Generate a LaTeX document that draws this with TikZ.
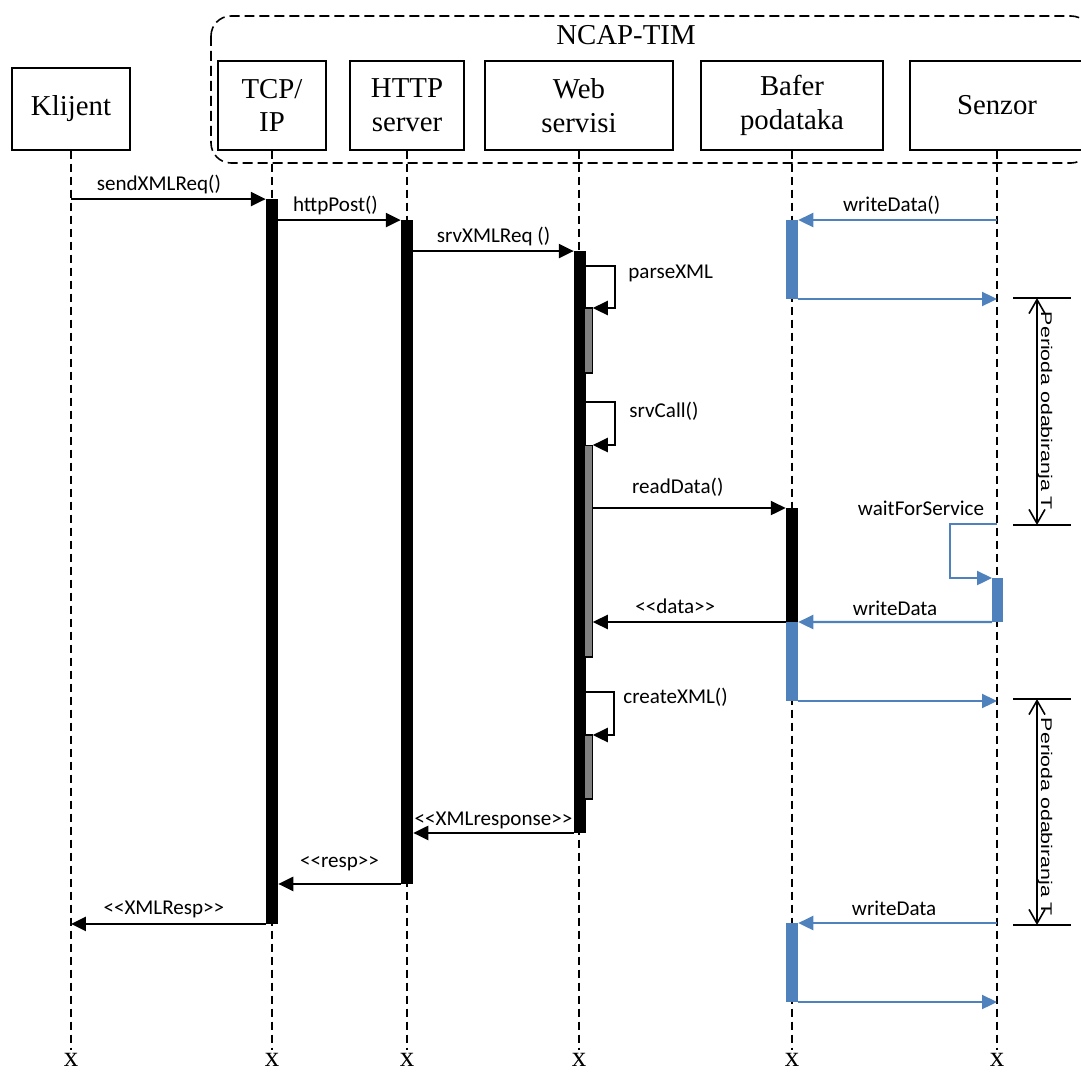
\documentclass[tikz,border=0pt]{standalone}
\usepackage{fontspec}
\setmainfont{Liberation Serif}
\newfontfamily\calibri{Carlito}
\newfontfamily\arial{Liberation Sans}
\usetikzlibrary{arrows.meta}
\definecolor{sensblue}{RGB}{79,129,189}
\definecolor{subgray}{RGB}{128,128,128}
\tikzset{
  head/.style={draw, line width=0.8pt, inner sep=0pt, align=center, minimum height=1.78cm, font=\fontsize{16.4}{19.3}\selectfont},
  endx/.style={inner sep=0.04cm, anchor=base, font=\fontsize{16.4}{19.3}\selectfont},
  life/.style={line width=0.9pt, dash pattern=on 0.16cm off 0.1cm},
  actbar/.style={fill=black, inner sep=0pt, outer sep=0pt, minimum width=0.25cm},
  subbar/.style={draw=black, line width=0.6pt, fill=subgray, inner sep=0pt, outer sep=0pt, minimum width=0.17cm},
  bufbar/.style={fill=sensblue, inner sep=0pt, outer sep=0pt, minimum width=0.25cm},
  msg/.style={line width=1.3pt, -{Triangle[length=0.3cm,width=0.28cm]}},
  bmsg/.style={msg, draw=sensblue},
  lbl/.style={font=\calibri\fontsize{12}{14}\selectfont, inner sep=0pt},
  onmsg/.style={lbl, anchor=base, yshift=0.18cm},
  tick/.style={line width=0.9pt},
  period/.style={line width=0.9pt, {Straight Barb[length=0.28cm,width=0.32cm]}-{Straight Barb[length=0.28cm,width=0.32cm]}},
  ptext/.style={font=\arial\fontsize{8.8}{10}\selectfont, inner sep=0pt, rotate=-90, xscale=1.38},
}

\begin{document}
\begin{tikzpicture}[x=0.02cm, y=-0.02cm]
        \useasboundingbox (0,0) rectangle (1081,1072);
        % NCAP-TIM frame
        \draw[line width=0.9pt, dash pattern=on 0.2cm off 0.1cm, rounded corners=0.4cm] (211,16) rectangle (1091,163);
        \node[font=\fontsize{16.4}{19.3}\selectfont, anchor=base] (ncap) at (626,44) {NCAP-TIM};
        % Lifeline heads
        \node[head, minimum width=2.36cm, minimum height=1.64cm] (kl) at (71,109) {Klijent};
        \node[head, minimum width=2.16cm] (tcp) at (272,105.5) {TCP/\\IP};
        \node[head, minimum width=2.28cm] (http) at (407,105.5) {HTTP\\server};
        \node[head, minimum width=3.76cm] (web) at (579,105.5) {Web\\servisi};
        \node[head, minimum width=3.64cm] (buf) at (792,105.5) {Bafer\\podataka};
        \node[head, minimum width=3.48cm] (sen) at (997,105.5) {Senzor};
        % Lifeline ends
        \node[endx] (kl-end) at (71,1066) {x};
        \node[endx] (tcp-end) at (272,1066) {x};
        \node[endx] (http-end) at (407,1066) {x};
        \node[endx] (web-end) at (579,1066) {x};
        \node[endx] (buf-end) at (792,1066) {x};
        \node[endx] (sen-end) at (997,1066) {x};
        \foreach \n in {kl,tcp,http,web,buf,sen}
            \draw[life] (\n) -- (\n-end);
        % Activation bars
        \node[actbar, minimum height=14.5cm] (tcpbar) at (272,561.5) {};
        \node[actbar, minimum height=13.28cm] (httpbar) at (407,552) {};
        \node[actbar, minimum height=11.64cm] (webbar) at (580,542) {};
        \node[subbar, minimum height=1.3cm] (parsebar) at (588.5,340.5) {};
        \node[subbar, minimum height=4.24cm] (callbar) at (588.5,551) {};
        \node[subbar, minimum height=1.28cm] (xmlbar) at (588.5,767) {};
        \node[actbar, minimum height=2.28cm] (readbar) at (792,565) {};
        \node[bufbar, minimum height=1.58cm] (buf1) at (792,259.5) {};
        \node[bufbar, minimum height=1.58cm] (buf2) at (792,661.5) {};
        \node[bufbar, minimum height=1.58cm] (buf3) at (792,962.5) {};
        \node[bufbar, minimum width=0.22cm, minimum height=0.88cm] (senbar) at (997.5,600) {};
        % Request chain
        \draw[msg] (kl |- tcpbar.north) -- node[onmsg, xshift=-0.19cm] (sendlbl) {sendXMLReq()} (tcpbar.north west);
        \draw[msg] (tcpbar.east |- httpbar.north) -- node[onmsg, xshift=-0.08cm] (postlbl) {httpPost()} (httpbar.north west);
        \draw[msg] (httpbar.east |- webbar.north) -- node[onmsg] (reqlbl) {srvXMLReq ()} (webbar.north west);
        \draw[msg] (webbar.east |- 0,266) -- (615,266) |- (parsebar.north east);
        \node[lbl, anchor=base west] (parselbl) at (628,278) {parseXML};
        \draw[msg] (webbar.east |- 0,402) -- (615,402) |- (callbar.north east);
        \node[lbl, anchor=base west] (calllbl) at (629,417) {srvCall()};
        \draw[msg] (callbar.east |- readbar.north) -- node[onmsg, xshift=-0.23cm, yshift=0.12cm] (readlbl) {readData()} (readbar.north west);
        \draw[msg] (readbar.south west) -- node[onmsg, xshift=-0.28cm] (datalbl) {<<data>>} (callbar.east |- readbar.south);
        \draw[msg] (webbar.east |- 0,692) -- (614,692) |- (xmlbar.north east);
        \node[lbl, anchor=base west] (xmllbl) at (623,703) {createXML()};
        % Responses
        \draw[msg] (webbar.south west) -- node[onmsg, yshift=-0.04cm] (xresplbl) {<<XMLresponse>>} (httpbar.east |- webbar.south);
        \draw[msg] (httpbar.south west) -- node[onmsg, yshift=0.14cm] (resplbl) {<<resp>>} (tcpbar.east |- httpbar.south);
        \draw[msg] (tcpbar.south west) -- node[onmsg, xshift=-0.09cm] (xrlbl) {<<XMLResp>>} (kl |- tcpbar.south);
        % Sensor writes
        \draw[bmsg] (sen |- buf1.north) -- node[onmsg, xshift=-0.12cm] (wr1lbl) {writeData()} (buf1.north east);
        \draw[bmsg] (buf1.south east) -- (sen |- buf1.south);
        \draw[bmsg] (sen |- 0,524) -- (950,524) |- (senbar.north west);
        \node[lbl, anchor=base] (waitlbl) at (921,515) {waitForService};
        \draw[bmsg] (senbar.south west) -- node[onmsg, yshift=-0.04cm] (wr2lbl) {writeData} (buf2.north east);
        \draw[bmsg] (buf2.south east) -- (sen |- buf2.south);
        \draw[bmsg] (sen |- buf3.north) -- node[onmsg, xshift=-0.07cm, yshift=-0.02cm] (wr3lbl) {writeData} (buf3.north east);
        \draw[bmsg] (buf3.south east) -- (sen |- buf3.south);
        % Sampling periods
        \coordinate (p1top) at (1037,298);
        \coordinate (p1bot) at (1037,525);
        \coordinate (p2top) at (1037,699);
        \coordinate (p2bot) at (1037,925);
        \foreach \c in {p1top,p1bot,p2top,p2bot}
            \draw[tick] ([xshift=-0.48cm]\c) -- ([xshift=0.68cm]\c);
        \draw[period] (p1top) -- (p1bot);
        \draw[period] (p2top) -- (p2bot);
        \node[ptext] (per1) at (1045,411) {Perioda odabiranja T};
        \node[ptext] (per2) at (1045,817) {Perioda odabiranja T};
\end{tikzpicture}
\end{document}
